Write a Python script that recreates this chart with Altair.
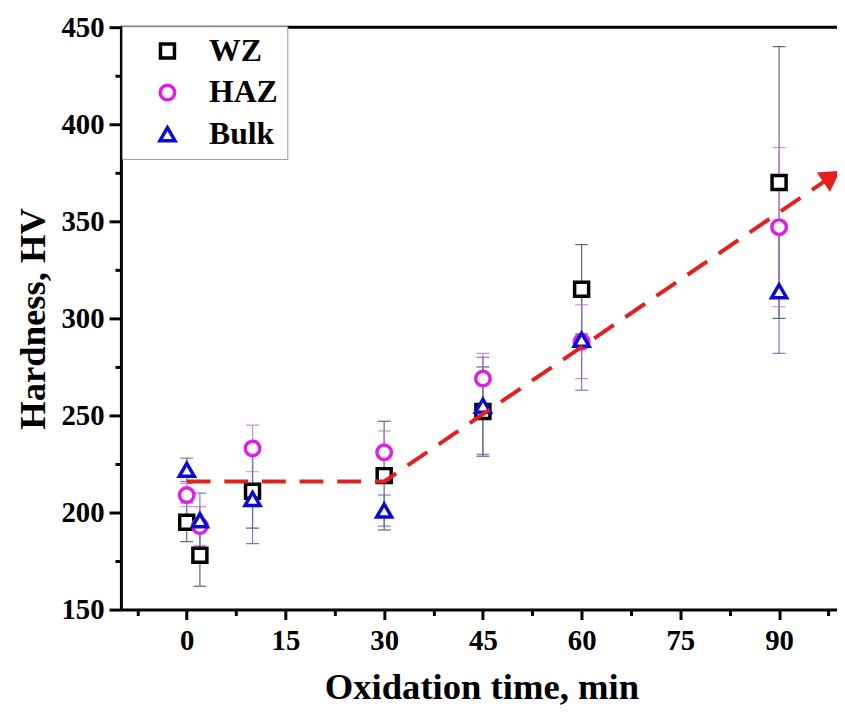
import altair as alt
import pandas as pd

# ---- data ----
times = [0, 2, 10, 30, 45, 60, 90]
series = ["WZ", "HAZ", "Bulk"]
wz = [195, 178, 211, 219, 252, 315, 370]
wz_err = [10, 16, 19, 28, 23, 23, 70]
haz = [209, 193, 233, 231, 269, 288, 347]
haz_err = [6, 10, 12, 11, 13, 19, 41]
bulk = [222, 196, 207, 201, 255, 289, 314]
bulk_err = [6, 14, 23, 8, 25, 26, 32]

trend_t = [0, 30, 98.0]
trend_v = [216, 216, 373.1]
arrow_t = [98.0]
arrow_v = [373.1]

x_ticks = [-7.5, 0, 7.5, 15, 22.5, 30, 37.5, 45, 52.5, 60, 67.5, 75, 82.5, 90, 97.5]
y_ticks = [150, 175, 200, 225, 250, 275, 300, 325, 350, 375, 400, 425, 450]

colors = ["#000000", "#e01ee6", "#0a0ad2"]
err_colors = ["#555555", "#d27ade", "#6c6cc0"]
shapes = ["square", "circle", "triangle-up"]
sizes = [200, 230, 390]

rows = []
for s, vals, errs in zip(series, [wz, haz, bulk], [wz_err, haz_err, bulk_err]):
    for t, v, e in zip(times, vals, errs):
        rows.append({"series": s, "t": t, "v": v, "lo": v - e, "hi": v + e})
df = pd.DataFrame(rows)
trend = pd.DataFrame({"t": trend_t, "v": trend_v, "i": list(range(len(trend_t)))})
arrow = pd.DataFrame({"t": arrow_t, "v": arrow_v})

FONT = "Liberation Serif"
W, H = 723, 588

xscale = alt.Scale(domain=[-10, 98.8], nice=False, zero=False)
yscale = alt.Scale(domain=[150, 450], nice=False, zero=False)

xaxis = alt.Axis(
    values=x_ticks,
    labelExpr="datum.value % 15 === 0 ? datum.label : ''",
    tickSize={"condition": {"test": "datum.value % 15 === 0", "value": 10}, "value": 6},
    tickWidth=3, tickColor="black", domainWidth=3, domainColor="black",
    labelFont=FONT, labelFontSize=29, labelFontWeight="bold", labelColor="black",
    labelBaseline="alphabetic", labelPadding=30, labelFlush=False,
    title="Oxidation time, min", titleFont=FONT, titleFontSize=37, titleFontWeight="bold",
    titleColor="black", titleBaseline="alphabetic", titleX=364, titleY=90, titleAnchor="middle",
    grid=False,
)
yaxis = alt.Axis(
    values=y_ticks,
    labelExpr="datum.value % 50 === 0 ? datum.label : ''",
    tickSize={"condition": {"test": "datum.value % 50 === 0", "value": 12}, "value": 6},
    tickWidth=3, tickColor="black", domainWidth=3, domainColor="black",
    labelFont=FONT, labelFontSize=29, labelFontWeight="bold", labelColor="black",
    labelPadding=5, labelFlush=False,
    title="Hardness, HV", titleFont=FONT, titleFontSize=37, titleFontWeight="bold",
    titleColor="black", titleBaseline="middle", titleX=-88, titleY=294, titleAngle=-90,
    titleAnchor="middle",
    grid=False,
)

base = alt.Chart(df)

layers = []
for s, c in zip(series, err_colors):
    sub = base.transform_filter(alt.datum.series == s)
    rule = sub.mark_rule(color=c, strokeWidth=1.2, opacity=0.9).encode(
        x=alt.X("t:Q", scale=xscale, axis=xaxis),
        y=alt.Y("lo:Q", scale=yscale, axis=yaxis),
        y2="hi:Q",
    )
    cap_lo = sub.mark_tick(color=c, orient="horizontal", size=13, thickness=1.2, opacity=0.9).encode(
        x="t:Q", y="lo:Q")
    cap_hi = sub.mark_tick(color=c, orient="horizontal", size=13, thickness=1.2, opacity=0.9).encode(
        x="t:Q", y="hi:Q")
    layers += [rule, cap_lo, cap_hi]

legend = alt.Legend(
    title=None, orient="none", legendX=1, legendY=-1, padding=9,
    strokeColor="#9a9a9a", fillColor="white", cornerRadius=0,
    symbolStrokeWidth=3.5, symbolOffset=21, labelOffset=26,
    labelFont=FONT, labelFontSize=32, labelFontWeight="bold", labelColor="black",
    rowPadding=10,
)

points = base.mark_point(filled=False, fill="white", strokeWidth=3.5, opacity=1).encode(
    x="t:Q",
    y="v:Q",
    color=alt.Color("series:N", scale=alt.Scale(domain=series, range=colors), legend=legend),
    shape=alt.Shape("series:N", scale=alt.Scale(domain=series, range=shapes), legend=legend),
    size=alt.Size("series:N", scale=alt.Scale(domain=series, range=sizes), legend=legend),
)
layers.append(points)

line = alt.Chart(trend).mark_line(color="#e3201c", strokeWidth=4, strokeDash=[24, 14]).encode(
    x="t:Q", y="v:Q", order="i:Q")
head = alt.Chart(arrow).mark_point(shape="triangle-up", filled=True, size=560, angle=55.7,
                                    color="#e3201c", opacity=1).encode(x="t:Q", y="v:Q")
top = alt.Chart(arrow).mark_rule(color="black", strokeWidth=3).encode(
    x=alt.value(0), x2=alt.value(W), y=alt.value(0))
layers += [line, head, top]

chart = alt.layer(*layers).properties(
    width=W, height=H,
    autosize=alt.AutoSizeParams(type="none"),
    padding={"left": 114, "top": 16, "right": 0, "bottom": 98},
).configure_view(stroke=None).configure(background="white")

chart.save("out.html", embed_options={"renderer": "svg", "actions": False})
